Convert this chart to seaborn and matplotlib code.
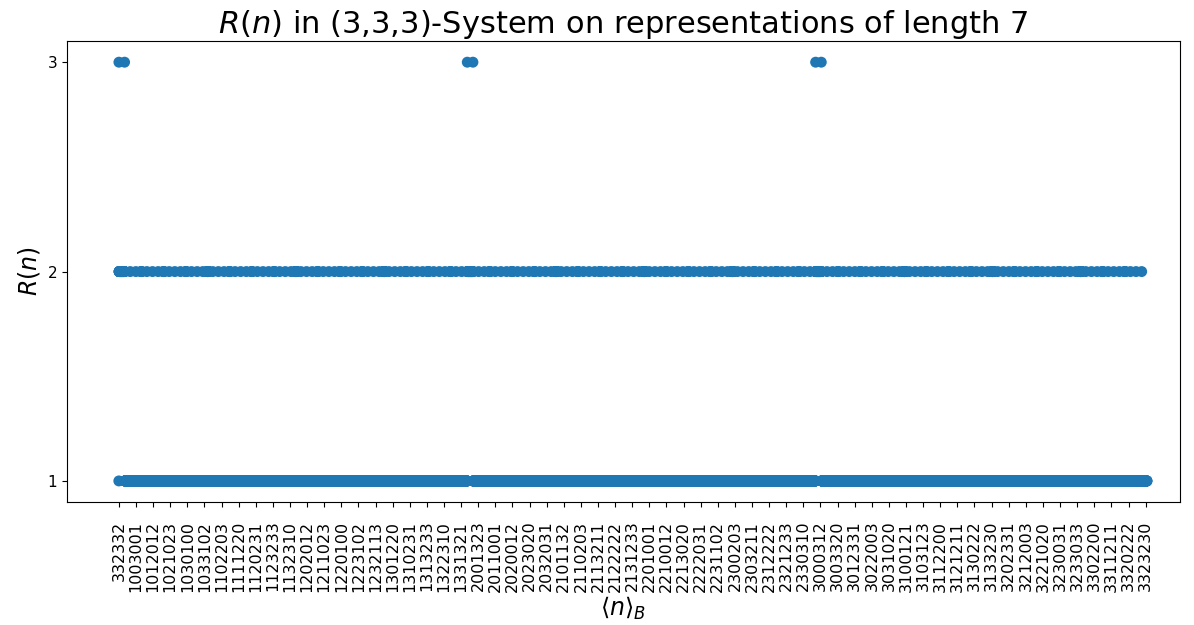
import numpy as np
import pandas as pd
import matplotlib
matplotlib.use("Agg")
import matplotlib.pyplot as plt
import seaborn as sns
from itertools import product

# (3,3,3)-system: U_k = 3*U_{k-1} + 3*U_{k-2} + 3*U_{k-3}
coeffs = [3, 3, 3]
initial_terms = [1, 4, 16]
rep_length = 7
digit_set = [0, 1, 2, 3]
tick_step = 191

U = list(initial_terms)
while len(U) < rep_length + 1:
    U.append(sum(c * u for c, u in zip(coeffs, U[::-1])))

# R(n): number of digit strings over {0,..,3} of length <= 7 whose value is n
weights = np.array(U[:rep_length][::-1])
all_values = np.array([np.dot(d, weights) for d in product(digit_set, repeat=rep_length)])
rep_counts = np.bincount(all_values)


def greedy_rep(n):
    out = []
    for k in range(rep_length - 1, -1, -1):
        d = min(n // U[k], max(digit_set))
        n -= d * U[k]
        out.append(str(d))
    return "".join(out).lstrip("0") or "0"


n_values = np.arange(U[rep_length - 1] - 1, U[rep_length])
rep_strings = [greedy_rep(int(n)) for n in n_values]
R_values = rep_counts[n_values]
positions = np.arange(len(n_values))

df = pd.DataFrame({"pos": positions, "rep": rep_strings, "R": R_values})

fig, ax = plt.subplots(figsize=(11.94, 6.25), dpi=100)
fig.subplots_adjust(left=0.056, right=0.988, top=0.934, bottom=0.197)

sns.scatterplot(data=df, x="pos", y="R", s=62, color="#1f77b4",
                linewidth=0, edgecolor="none", ax=ax, legend=False)

tick_pos = positions[::tick_step]
ax.set_xticks(tick_pos, [rep_strings[i] for i in tick_pos])
ax.set_xlim(-580, len(positions) - 1 + 365)
ax.tick_params(axis="x", labelrotation=90, labelsize=11.5, pad=10)
ax.tick_params(axis="y", labelsize=11)
ax.set_yticks([1, 2, 3])
ax.margins(y=0.05)

ax.set_title(r"$R(n)$ in (3,3,3)-System on representations of length 7", fontsize=22)
ax.set_xlabel(r"$\langle n\rangle_B$", fontsize=17, labelpad=2)
ax.set_ylabel(r"$R(n)$", fontsize=17)

fig.savefig("out.png", dpi=100)
